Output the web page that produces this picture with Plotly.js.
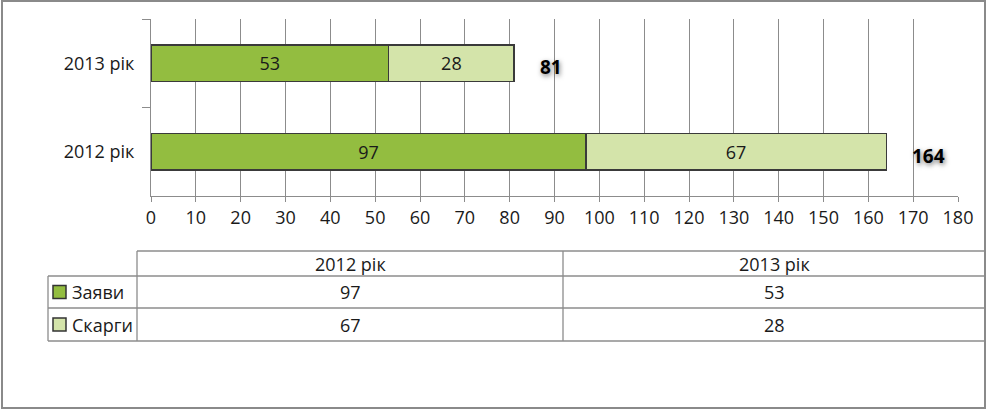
<!DOCTYPE html>
<html>
<head>
<meta charset="utf-8">
<script src="https://cdn.plot.ly/plotly-3.0.1.min.js"></script>
<style>html,body{margin:0;padding:0;background:#fff;}#chart{width:989px;height:410px;}</style>
</head>
<body>
<div id="chart"></div>
<script>
// Data
const years = ["2012 рік", "2013 рік"];
const seriesNames = ["Заяви", "Скарги"];
const zayavy = [97, 53];
const skargy = [67, 28];
const totals = years.map((y, i) => zayavy[i] + skargy[i]);

const FONT = "Open Sans, Liberation Sans, sans-serif";
const GREEN = "#93BD40";
const LIGHT = "#D4E4AA";
const GRID = "#8c8c8c";
const TXT = "#1a1a1a";

const W = 989, H = 410;
const px = v => v / W;
const py = v => 1 - v / H;

const barZ = {
  type: "bar", orientation: "h", name: seriesNames[0],
  y: years, x: zayavy,
  text: zayavy.map(String), textposition: "inside", insidetextanchor: "middle",
  textfont: {family: FONT, size: 18, color: TXT},
  marker: {color: GREEN, line: {color: "#3a3a3a", width: 1.5}},
  width: 0.41, hoverinfo: "skip"
};
const barS = {
  type: "bar", orientation: "h", name: seriesNames[1],
  y: years, x: skargy,
  text: skargy.map(String), textposition: "inside", insidetextanchor: "middle",
  textfont: {family: FONT, size: 18, color: TXT},
  marker: {color: LIGHT, line: {color: "#3a3a3a", width: 1.5}},
  width: 0.41, hoverinfo: "skip"
};

const annotations = years.map((y, i) => ({
  x: totals[i], y: y, xref: "x", yref: "y",
  text: "<b>" + totals[i] + "</b>",
  showarrow: false, xanchor: "left", xshift: 24, yshift: -4,
  font: {family: FONT, size: 19, color: "#000", shadow: "1px 2px 5px rgba(0,0,0,0.55)"}
}));

// Data table below the chart (layout geometry in pixels)
const tX = [48, 137, 563, 985];          // column edges
const tY = [251, 276, 308, 341];          // row edges
const shapes = [];
const line = c => ({color: c || GRID, width: 1.3});
function hl(x0, x1, y) { shapes.push({type: "line", xref: "paper", yref: "paper", x0: px(x0), x1: px(x1), y0: py(y), y1: py(y), line: line()}); }
function vl(x, y0, y1) { shapes.push({type: "line", xref: "paper", yref: "paper", x0: px(x), x1: px(x), y0: py(y0), y1: py(y1), line: line()}); }
hl(tX[1], tX[3], tY[0]);
for (let r = 1; r < tY.length; r++) hl(tX[0], tX[3], tY[r]);
vl(tX[0], tY[1], tY[3]);
vl(tX[1], tY[0], tY[3]);
vl(tX[2], tY[0], tY[3]);

// header
years.forEach((y, c) => annotations.push({
  xref: "paper", yref: "paper", x: px((tX[c + 1] + tX[c + 2]) / 2), y: py((tY[0] + tY[1]) / 2),
  text: y, showarrow: false, xanchor: "center", yanchor: "middle",
  font: {family: FONT, size: 18, color: TXT}
}));
// rows
const seriesVals = [zayavy, skargy];
const swatch = [GREEN, LIGHT];
seriesNames.forEach((n, r) => {
  const yc = (tY[r + 1] + tY[r + 2]) / 2;
  shapes.push({type: "rect", xref: "paper", yref: "paper",
    x0: px(53), x1: px(66), y0: py(yc + 6.5), y1: py(yc - 6.5),
    fillcolor: swatch[r], line: {color: "#333", width: 1.5}});
  annotations.push({xref: "paper", yref: "paper", x: px(70), y: py(yc), text: n,
    showarrow: false, xanchor: "left", yanchor: "middle",
    font: {family: FONT, size: 18, color: TXT}});
  years.forEach((y, c) => annotations.push({
    xref: "paper", yref: "paper", x: px((tX[c + 1] + tX[c + 2]) / 2), y: py(yc),
    text: String(seriesVals[r][c]), showarrow: false, xanchor: "center", yanchor: "middle",
    font: {family: FONT, size: 18, color: TXT}
  }));
});

// outer frame
shapes.push({
  type: "rect", xref: "paper", yref: "paper",
  x0: px(2), x1: px(985), y0: py(408), y1: py(1),
  line: {color: "#8a8a8a", width: 2}, fillcolor: "rgba(0,0,0,0)", layer: "above"
});

const layout = {
  width: W, height: H,
  margin: {l: 0, r: 0, t: 0, b: 0},
  paper_bgcolor: "#ffffff", plot_bgcolor: "#ffffff",
  barmode: "stack",
  showlegend: false,
  font: {family: FONT, size: 18, color: TXT},
  xaxis: {
    domain: [px(151), px(958)],
    range: [0, 180], dtick: 10, tick0: 0,
    showgrid: true, gridcolor: GRID, gridwidth: 1,
    showline: true, linecolor: GRID, linewidth: 1,
    ticks: "outside", ticklen: 5, tickcolor: GRID,
    zeroline: false,
    tickfont: {family: FONT, size: 18, color: TXT},
    fixedrange: true
  },
  yaxis: {
    domain: [py(196), py(19)],
    type: "category",
    categoryorder: "array", categoryarray: years,
    showline: true, linecolor: GRID, linewidth: 1,
    ticks: "outside", ticklen: 8, tickcolor: GRID, tickson: "boundaries",
    showgrid: false, zeroline: false,
    ticklabelstandoff: 12,
    tickfont: {family: FONT, size: 18, color: TXT},
    fixedrange: true
  },
  annotations: annotations,
  shapes: shapes
};

Plotly.newPlot("chart", [barZ, barS], layout, {staticPlot: true, displayModeBar: false});
</script>
</body>
</html>
